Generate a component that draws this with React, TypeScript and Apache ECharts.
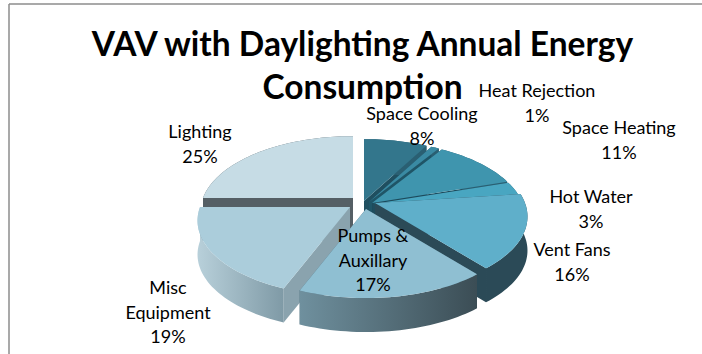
import React, { useEffect, useRef } from "react";
import * as echarts from "echarts";

// Annual energy end uses, percent of total, clockwise from twelve o'clock.
const categories = [
  "Space Cooling",
  "Heat Rejection",
  "Space Heating",
  "Hot Water",
  "Vent Fans",
  "Pumps &\nAuxillary",
  "Misc\nEquipment",
  "Lighting",
];
const shares = [8, 1, 11, 3, 16, 17, 19, 25];
const titleLines = "VAV with Daylighting Annual Energy\nConsumption";

// Where each exploded wedge's apex sits on the page.
const apexX = [364, 369, 372, 373, 375, 366, 350, 353];
const apexY = [201, 202, 203, 204, 203, 209, 207, 198];
// Paint order, back of the pie first.
const paintOrder = [0, 1, 2, 3, 4, 7, 6, 5];
const topColors = ["#33768c", "#3a8aa3", "#3f95ae", "#49a6c1", "#5fafca", "#8fbfd2", "#abcddb", "#c6dce5"];
const cutColors = ["#1f4f60", "#1f5567", "#1d4b5c", "#1f4d5e", "#2b4a57", "#4d6d7a", "#8aa3ae", "#555f65"];
const rimColors: [string, string][] = [
  ["#2a5f72", "#2a5f72"],
  ["#2a5f72", "#2a5f72"],
  ["#2a5f72", "#2a5f72"],
  ["#2a5f72", "#2a5f72"],
  ["#2b4a57", "#2b4a57"],
  ["#6f909e", "#3b4d55"],
  ["#b8d0da", "#7f9aa6"],
  ["#555f65", "#555f65"],
];
// Label anchor: centre x and the y of the first text line.
const labelX = [422, 537, 619, 591, 572, 373, 168, 200];
const labelY = [113, 90, 127, 196, 249, 235, 287, 131];

const RADIUS = 150;
const FLATTEN = 73;
const PERSPECTIVE = 0.18;
const DEPTH = 34;
const LABEL_FONT = '18px Lato, "Open Sans", sans-serif';

// Foreshortened position of an angle on the pie's tilted plane, relative to the apex.
function project(theta: number): [number, number] {
  const x = Math.sin(theta);
  const y = -Math.cos(theta);
  const s = 1 / (1 - PERSPECTIVE * y);
  return [RADIUS * x * s, FLATTEN * y * s];
}

function wedgeAngles(index: number): [number, number] {
  const total = shares.reduce((a, b) => a + b, 0);
  const before = shares.slice(0, index).reduce((a, b) => a + b, 0);
  return [(before / total) * 2 * Math.PI, ((before + shares[index]) / total) * 2 * Math.PI];
}

function renderWedge(params: any) {
  const i = params.dataIndex;
  const [start, end] = wedgeAngles(i);
  const ax = apexX[i];
  const ay = apexY[i];
  const layer = paintOrder.indexOf(i) * 10;
  const steps = Math.max(4, Math.ceil((end - start) / 0.03));
  const rim: number[][] = [];
  for (let k = 0; k <= steps; k++) {
    const [dx, dy] = project(start + ((end - start) * k) / steps);
    rim.push([ax + dx, ay + dy]);
  }
  const drop = (p: number[]) => [p[0], p[1] + DEPTH];
  const apex = [ax, ay];
  const first = rim[0];
  const last = rim[rim.length - 1];
  const poly = (points: number[][], fill: any, z2: number) => ({
    type: "polygon",
    z2,
    shape: { points },
    style: { fill, stroke: null },
  });
  const rimFill = new echarts.graphic.LinearGradient(0, 0, 1, 0, [
    { offset: 0, color: rimColors[i][0] },
    { offset: 1, color: rimColors[i][1] },
  ]);
  return {
    type: "group",
    children: [
      poly([apex, first, drop(first), drop(apex)], cutColors[i], layer),
      poly([apex, last, drop(last), drop(apex)], cutColors[i], layer + 1),
      poly([...rim, ...rim.slice().reverse().map(drop)], rimFill, layer + 2),
      poly([apex, ...rim], topColors[i], layer + 3),
    ],
  };
}

function renderLabel(params: any) {
  const i = params.dataIndex;
  return {
    type: "text",
    z2: 200,
    style: {
      text: `${categories[i]}\n${shares[i]}%`,
      x: labelX[i],
      y: labelY[i] - 12,
      fill: "#000",
      font: LABEL_FONT,
      lineHeight: 24.5,
      align: "center",
      verticalAlign: "top",
    },
  };
}

export default function App() {
  const ref = useRef<HTMLDivElement>(null);
  useEffect(() => {
    const chart = echarts.init(ref.current!, undefined, { renderer: "svg" });
    chart.setOption({
      animation: false,
      backgroundColor: "#fff",
      graphic: [
        { type: "line", shape: { x1: 9, y1: 4, x2: 702, y2: 4 }, style: { stroke: "#8c8c8c", lineWidth: 1.5 } },
        { type: "line", shape: { x1: 9, y1: 4, x2: 9, y2: 354 }, style: { stroke: "#8c8c8c", lineWidth: 1.5 } },
        {
          type: "text",
          x: 362.5,
          y: 21,
          style: {
            text: titleLines,
            fill: "#000",
            font: 'bold 33.5px Lato, "Open Sans", sans-serif',
            lineHeight: 43,
            align: "center",
            verticalAlign: "top",
          },
        },
      ],
      series: [
        {
          type: "custom",
          coordinateSystem: "none",
          renderItem: renderWedge,
          data: shares,
          silent: true,
          z: 2,
        },
        {
          type: "custom",
          coordinateSystem: "none",
          renderItem: renderLabel,
          data: shares,
          silent: true,
          z: 3,
        },
      ],
    });
    return () => chart.dispose();
  }, []);
  return <div ref={ref} style={{ position: "fixed", left: 0, top: 0, width: 702, height: 354 }} />;
}
